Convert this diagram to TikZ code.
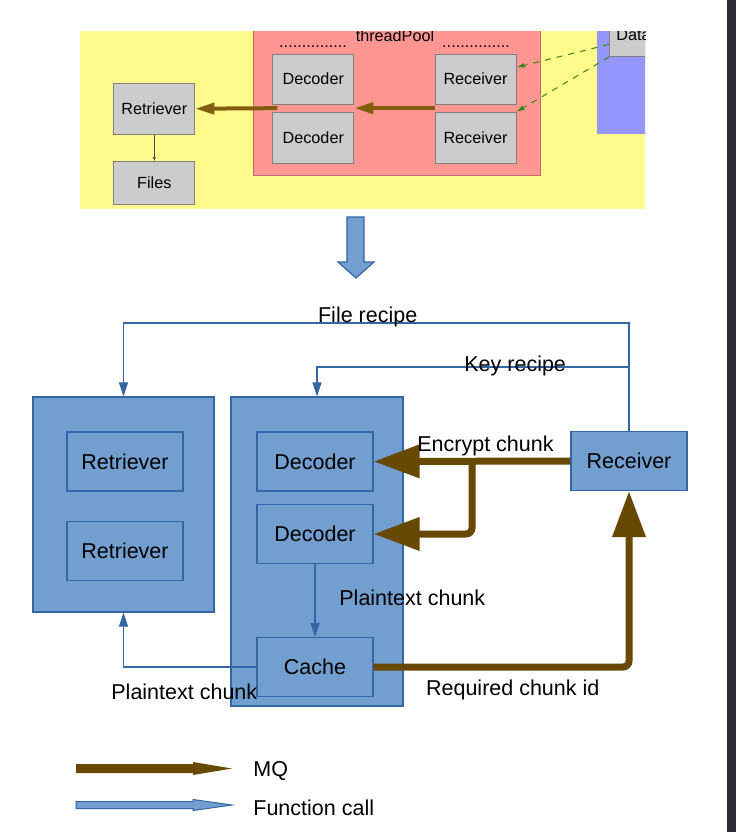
\documentclass[tikz,border=0pt]{standalone}
\usepackage{fontspec}
\setmainfont{Liberation Sans}
\usetikzlibrary{arrows.meta,calc}

\definecolor{boxfill}{HTML}{729FCF}
\definecolor{boxline}{HTML}{3465A4}
\definecolor{mqbrown}{RGB}{104,73,2}
\definecolor{oldbrown}{RGB}{128,94,14}
\definecolor{oldyellow}{RGB}{255,250,140}
\definecolor{oldred}{RGB}{255,150,146}
\definecolor{oldredline}{RGB}{190,110,110}
\definecolor{oldblue}{RGB}{150,150,255}
\definecolor{oldgray}{RGB}{204,204,204}
\definecolor{oldgreen}{RGB}{60,130,30}
\definecolor{sidebar}{RGB}{42,45,51}

\begin{document}
\begin{tikzpicture}[x=0.5pt,y=-0.5pt,
    font=\fontsize{10.75}{12}\selectfont,
    blk/.style={draw=boxline, fill=boxfill, line width=0.6pt, inner sep=0pt, minimum width=58pt, minimum height=29.5pt},
    pool/.style={draw=boxline, fill=boxfill, line width=0.6pt, inner sep=0pt},
    call/.style={draw=boxline, line width=0.6pt, -{Triangle[length=7pt,width=4.5pt]}},
    mq/.style={draw=mqbrown, line width=3.5pt, -{Triangle[length=23pt,width=16pt]}},
    oldbox/.style={draw=gray, fill=oldgray, line width=0.5pt, inner sep=0pt, minimum width=40.5pt, minimum height=25pt, font=\fontsize{8.1}{9}\selectfont},
    oldmq/.style={draw=oldbrown, line width=2pt, -{Triangle[length=9.5pt,width=5.5pt]}},
    olddash/.style={draw=oldgreen, line width=0.5pt, dashed, -{Latex[length=4pt,width=2.5pt]}},
    lbl/.style={anchor=base west, inner sep=0pt}]
    \useasboundingbox (0,0) rectangle (736,832);
    \fill[white] (0,0) rectangle (736,832);
    \fill[sidebar] (727,0) rectangle (736,832);

    % old design, cut out of a screenshot
    \begin{scope}
    \clip (79.6,31) rectangle (645,209);
    \fill[oldyellow] (79.6,31) rectangle (645,209);
    \filldraw[fill=oldred, draw=oldredline, line width=0.5pt] (253.5,10) rectangle (540,175.7);
    \fill[oldblue] (597,10) rectangle (660,134);
    \node[oldbox, minimum width=27.5pt, minimum height=20.5pt] (tdata) at (637,36) {};
    \node[anchor=base west, inner sep=0pt, font=\fontsize{8.1}{9}\selectfont] (tdatatext) at (616,40) {Data};
    \node[anchor=base, inner sep=0pt, font=\fontsize{8.1}{9}\selectfont] (tpool) at (395,41) {threadPool};
    \node[anchor=base, inner sep=0pt, font=\fontsize{8.1}{9}\selectfont] (tdots1) at (313,47) {...............};
    \node[anchor=base, inner sep=0pt, font=\fontsize{8.1}{9}\selectfont] (tdots2) at (476,47) {...............};
    \node[oldbox] (tdec1) at (313.3,79) {Decoder};
    \node[oldbox, minimum height=25.5pt] (tdec2) at (313.3,137.8) {Decoder};
    \node[oldbox] (trcv1) at (475.5,79) {Receiver};
    \node[oldbox, minimum height=25.5pt] (trcv2) at (475.5,137.8) {Receiver};
    \node[oldbox, minimum height=25.3pt] (tret) at (154.3,108.7) {Retriever};
    \node[oldbox, minimum height=21.3pt] (tfiles) at (154.3,183) {Files};
    \draw[oldmq] ($(trcv1.south west)!.5!(trcv2.north west)$) -- ($(tdec1.south east)!.5!(tdec2.north east)$);
    \draw[oldmq] ($(tdec1.south west)!.5!(tdec2.north west)+(5,0)$) -- (tret.east);
    \draw[draw=black!70, line width=0.3pt, -{Latex[length=2pt,width=1.5pt]}] (tret) -- (tfiles);
    \draw[olddash] ($(tdata.south west)!.3!(tdata.north west)$) -- ($(trcv1.north east)!.27!(trcv1.south east)$);
    \draw[olddash] (tdata.south west) -- (trcv2.north east);
    \end{scope}

    % big arrow
    \filldraw[fill=boxfill, draw=boxline, line width=0.6pt] (347,217) -- (364,217) -- (364,262) -- (374,262) -- (356,278) -- (338,262) -- (347,262) -- cycle;

    % new design
    \node[pool, minimum width=90.5pt, minimum height=107.5pt] (retpool) at (123.5,504.5) {};
    \node[pool, minimum width=86pt, minimum height=154.5pt] (decpool) at (317,551.5) {};
    \node[blk] (ret1) at (125,461.5) {Retriever};
    \node[blk] (ret2) at (125,551) {Retriever};
    \node[blk] (dec1) at (315,461.5) {Decoder};
    \node[blk] (dec2) at (315,534) {Decoder};
    \node[blk] (cache) at (315,667) {Cache};
    \node[blk] (recv) at (629,461) {Receiver};

    \coordinate (keyjoin) at ($(recv.north)+(0,-64)$);
    \coordinate (split) at ($(recv.west)!.5!(dec1.east)$);
    \draw[call] (recv.north) -- ++(0,-108) -| (retpool.north);
    \draw[call] (keyjoin) -| (decpool.north);
    \draw[mq] (recv.west) -- (dec1.east);
    \draw[mq, rounded corners=3pt] (split) |- (dec2.east);
    \draw[call] (dec2.south) -- (cache.north);
    \draw[call] (cache.west) -| (retpool.south);
    \draw[mq, rounded corners=3pt] (cache.east) -| (recv.south);

    \node[lbl] (lfile) at (317.7,322) {File recipe};
    \node[lbl] (lkey) at (464,371) {Key recipe};
    \node[lbl] (lenc) at (417,451) {Encrypt chunk};
    \node[lbl] (lplain) at (339,605) {Plaintext chunk};
    \node[lbl] (lplainb) at (111,699) {Plaintext chunk};
    \node[lbl] (lreq) at (425.7,695) {Required chunk id};

    % legend
    \fill[mqbrown] (76,764) -- (193,764) -- (193,762) -- (232,768.5) -- (193,775) -- (193,773) -- (76,773) -- cycle;
    \filldraw[fill=boxfill, draw=boxline, line width=0.5pt] (76,801.5) -- (193,801.5) -- (193,799.5) -- (232,805) -- (193,810.5) -- (193,808.5) -- (76,808.5) -- cycle;
    \node[lbl] (lmq) at (253,776.7) {MQ};
    \node[lbl] (lfunc) at (253,815) {Function call};
\end{tikzpicture}
\end{document}
